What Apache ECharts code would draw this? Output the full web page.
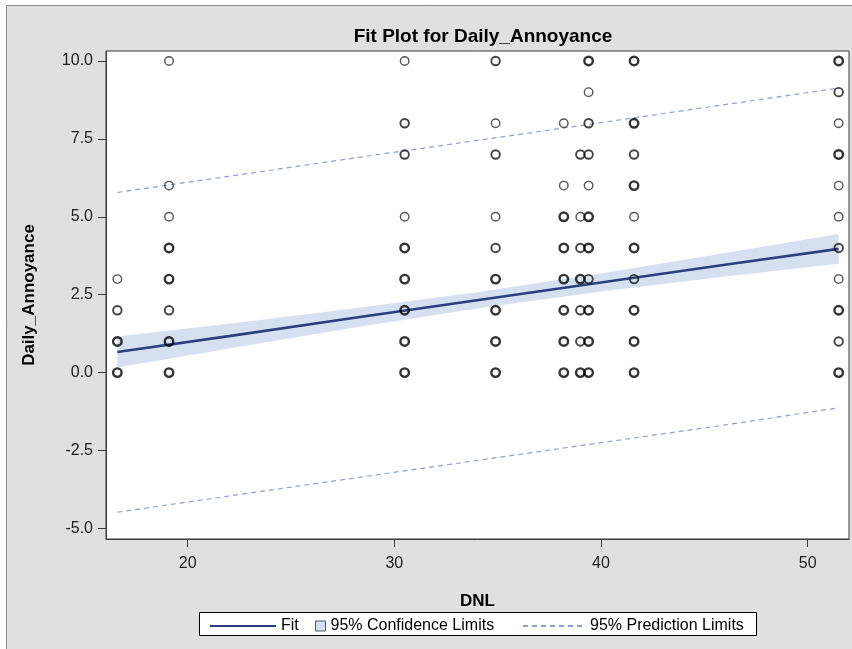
<!DOCTYPE html>
<html>
<head>
<meta charset="utf-8">
<script src="https://cdn.jsdelivr.net/npm/echarts@6.0.0/dist/echarts.min.js"></script>
<style>
  html, body { margin: 0; padding: 0; background: #ffffff; }
  #main { width: 852px; height: 649px; }
</style>
</head>
<body>
<div id="main"></div>
<script>
// observed data: DNL levels and the Daily_Annoyance values seen at each level
const dnlLevels = [16.6, 19.1, 30.5, 34.9, 38.2, 39.0, 39.4, 41.6, 51.5];
const annoyanceByLevel = [
  [3, 2, 1, 0],
  [10, 6, 5, 4, 3, 2, 1, 0],
  [10, 8, 7, 5, 4, 3, 2, 1, 0],
  [10, 8, 7, 5, 4, 3, 2, 1, 0],
  [8, 6, 5, 4, 3, 2, 1, 0],
  [7, 5, 4, 3, 2, 1, 0],
  [10, 9, 8, 7, 6, 5, 4, 3, 2, 1, 0],
  [10, 8, 7, 6, 5, 4, 3, 2, 1, 0],
  [10, 9, 8, 7, 6, 5, 4, 3, 2, 1, 0]
];
// how heavy each circle looks (1 single, 2 a few, 3 many overlapping)
const overlapByLevel = [
  [1, 2, 3, 3],
  [1, 1, 1, 3, 3, 2, 3, 3],
  [1, 2, 2, 1, 3, 3, 3, 3, 3],
  [2, 1, 2, 1, 2, 3, 3, 3, 3],
  [1, 1, 3, 3, 3, 3, 3, 3],
  [2, 1, 2, 3, 2, 2, 3],
  [3, 1, 2, 2, 1, 3, 3, 2, 3, 3, 3],
  [3, 3, 2, 3, 1, 3, 2, 3, 3, 3],
  [3, 2, 1, 3, 1, 1, 2, 1, 3, 2, 3]
];

// fit line and limits
const fitDNL = [16.6, 22, 28, 34, 40, 46, 51.5];
const fitValue = [0.66, 1.17, 1.75, 2.32, 2.89, 3.46, 3.97];
const confLower = [0.16, 0.77, 1.44, 2.06, 2.60, 3.08, 3.49];
const confUpper = [1.16, 1.57, 2.06, 2.58, 3.18, 3.84, 4.45];
const predLower = [-4.48, -3.96, -3.39, -2.82, -2.25, -1.68, -1.13];
const predUpper = [5.78, 6.30, 6.88, 7.45, 8.02, 8.60, 9.13];

const xTicks = [20, 30, 40, 50];
const yTicks = [-5, -2.5, 0, 2.5, 5, 7.5, 10];

const FONT = 'Liberation Sans, Arial, sans-serif';
const fitColor = '#2b407f';
const bandColor = '#d5e0f1';
const predColor = '#8fa2c9';

let chart = echarts.init(document.getElementById('main'));

// scatter points
let points = [];
dnlLevels.forEach(function (x, i) {
  annoyanceByLevel[i].forEach(function (y, j) {
    let n = overlapByLevel[i][j];
    points.push({
      value: [x, y],
      itemStyle: {
        borderColor: n === 1 ? '#2a2a2a' : (n === 2 ? '#141414' : '#000000'),
        borderWidth: n === 1 ? 1.4 : (n === 2 ? 1.9 : 2.4)
      }
    });
  });
});

function pairs(xs, ys) {
  return xs.map(function (x, i) { return [x, ys[i]]; });
}

let option = {
  backgroundColor: 'transparent',
  animation: false,
  textStyle: { fontFamily: FONT },
  graphic: [
    {
      type: 'rect', z: -100, silent: true,
      shape: { x: 6.5, y: 5.5, width: 900, height: 700 },
      style: { fill: '#e0e0e0', stroke: '#8a8a8a', lineWidth: 1 }
    },
    {
      type: 'rect', z: 50, silent: true,
      shape: { x: 199.5, y: 612.5, width: 557, height: 23 },
      style: { fill: '#ffffff', stroke: '#000000', lineWidth: 1 }
    }
  ],
  title: {
    text: 'Fit Plot for Daily_Annoyance',
    left: 478,
    top: 22,
    textAlign: 'center',
    textStyle: { fontFamily: FONT, fontSize: 19, fontWeight: 'bold', color: '#000' }
  },
  legend: [
    {
      left: 204, top: 613, z: 60,
      itemWidth: 66, itemHeight: 14, itemGap: 0,
      selectedMode: false,
      textStyle: { fontFamily: FONT, fontSize: 16, color: '#000' },
      data: [{ name: 'Fit', itemStyle: { opacity: 0 } }]
    },
    {
      left: 310, top: 613, z: 60,
      itemWidth: 10, itemHeight: 10, itemGap: 0,
      selectedMode: false,
      textStyle: { fontFamily: FONT, fontSize: 16, color: '#000' },
      data: [{
        name: '95% Confidence Limits',
        icon: 'rect',
        itemStyle: { color: bandColor, borderColor: '#555', borderWidth: 1 }
      }]
    },
    {
      left: 517, top: 613, z: 60,
      itemWidth: 62, itemHeight: 14, itemGap: 0,
      selectedMode: false,
      textStyle: { fontFamily: FONT, fontSize: 16, color: '#000' },
      data: [{ name: '95% Prediction Limits', itemStyle: { opacity: 0 } }]
    }
  ],
  grid: {
    left: 106, right: 3, top: 51, bottom: 110,
    show: true,
    backgroundColor: '#ffffff',
    borderColor: '#3a3a3a',
    borderWidth: 1
  },
  xAxis: {
    type: 'value',
    min: 16.05,
    max: 52.0,
    name: 'DNL',
    nameLocation: 'middle',
    nameGap: 54,
    nameTextStyle: { fontFamily: FONT, fontSize: 17, fontWeight: 'bold', color: '#000' },
    axisLine: { show: true, onZero: false, lineStyle: { color: '#3a3a3a', width: 1 } },
    axisTick: { show: true, length: 8, customValues: xTicks, lineStyle: { color: '#3a3a3a' } },
    axisLabel: { customValues: xTicks, margin: 17, fontFamily: FONT, fontSize: 16, color: '#222' },
    splitLine: { show: false }
  },
  yAxis: {
    type: 'value',
    min: -5.34,
    max: 10.32,
    name: 'Daily_Annoyance',
    nameLocation: 'middle',
    nameGap: 68,
    nameTextStyle: { fontFamily: FONT, fontSize: 17, fontWeight: 'bold', color: '#000' },
    axisLine: { show: true, onZero: false, lineStyle: { color: '#3a3a3a', width: 1 } },
    axisTick: { show: true, length: 8, customValues: yTicks, lineStyle: { color: '#3a3a3a' } },
    axisLabel: {
      customValues: yTicks, margin: 13, fontFamily: FONT, fontSize: 16, color: '#222',
      formatter: function (v) { return v.toFixed(1); }
    },
    splitLine: { show: false }
  },
  series: [
    {
      name: '95% Confidence Limits',
      type: 'custom',
      z: 1,
      itemStyle: { color: bandColor },
      renderItem: function (params, api) {
        if (params.dataIndex !== 0) return null;
        let pts = [];
        for (let i = 0; i < fitDNL.length; i++) pts.push(api.coord([fitDNL[i], confUpper[i]]));
        for (let i = fitDNL.length - 1; i >= 0; i--) pts.push(api.coord([fitDNL[i], confLower[i]]));
        return { type: 'polygon', shape: { points: pts }, style: { fill: bandColor } };
      },
      data: [[fitDNL[0], confLower[0]]]
    },
    {
      name: '95% Prediction Limits',
      type: 'line',
      z: 2,
      symbol: 'none',
      lineStyle: { color: predColor, width: 1.2, type: [5, 4] },
      itemStyle: { color: predColor },
      data: pairs(fitDNL, predUpper)
    },
    {
      name: '95% Prediction Limits',
      type: 'line',
      z: 2,
      symbol: 'none',
      lineStyle: { color: predColor, width: 1.2, type: [5, 4] },
      itemStyle: { color: predColor },
      data: pairs(fitDNL, predLower)
    },
    {
      name: 'Fit',
      type: 'line',
      z: 3,
      symbol: 'none',
      lineStyle: { color: fitColor, width: 2.6 },
      itemStyle: { color: fitColor },
      data: pairs(fitDNL, fitValue)
    },
    {
      name: 'Daily_Annoyance',
      type: 'scatter',
      z: 4,
      symbol: 'circle',
      symbolSize: 8.5,
      itemStyle: { color: 'rgba(0,0,0,0)' },
      data: points
    }
  ]
};

chart.setOption(option, true);
</script>
</body>
</html>
